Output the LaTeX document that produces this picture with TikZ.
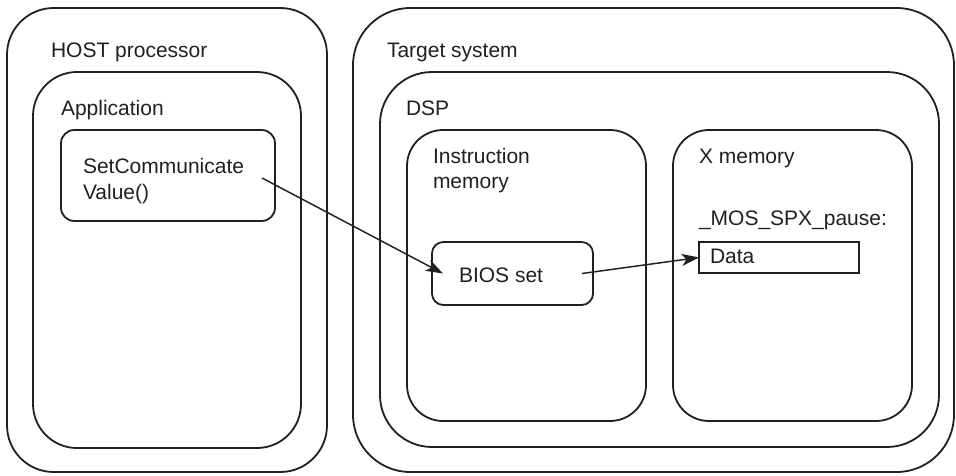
\documentclass[tikz,border=0pt]{standalone}
\usepackage{fontspec}
\setmainfont{Liberation Sans}
\usetikzlibrary{arrows.meta,calc,fit}
\definecolor{ink}{HTML}{231F20}
\begin{document}
\begin{tikzpicture}[x=0.75pt,y=-0.75pt,
  frame/.style={draw=ink, line width=1.35pt, inner sep=0pt, outer sep=0pt},
  lbl/.style={anchor=base west, inner sep=0pt, outer sep=0pt, text=ink,
              font=\fontsize{15.75}{19.5}\selectfont},
  link/.style={draw=ink, line width=1.1pt,
               -{Stealth[length=13pt,width=9pt,inset=3.5pt]}}]
\useasboundingbox (0,0) rectangle (956,475);

% host side
\node[frame, rounded corners=35pt, fit={(7,8) (327,472)}] (host) {};
\node[frame, rounded corners=33pt, fit={(33,72) (301,448)}] (app) {};
\node[frame, rounded corners=10pt, fit={(61,130) (275,221)}] (setcomm) {};
\node[lbl] (hostlbl) at (51,57) {HOST processor};
\node[lbl] (applbl) at (61,115) {Application};
\node[lbl] (sc1) at (83,173) {SetCommunicate};
\node[lbl] (sc2) at (83,199) {Value()};

% target side
\node[frame, rounded corners=43pt, fit={(353,8) (954,472)}] (target) {};
\node[frame, rounded corners=39pt, fit={(380,72) (939,447)}] (dsp) {};
\node[frame, rounded corners=27pt, fit={(407,130) (646,421)}] (instr) {};
\node[frame, rounded corners=27pt, fit={(673,130) (912,421)}] (xmem) {};
\node[frame, rounded corners=8.5pt, fit={(432,242) (593,305)}] (bios) {};
\node[frame, line width=0.8pt, fit={(699,242) (859,273)}] (data) {};

\node[lbl] (targetlbl) at (387,57) {Target system};
\node[lbl] (dsplbl) at (406,115) {DSP};
\node[lbl] (instr1) at (433,163) {Instruction};
\node[lbl] (instr2) at (433,188) {memory};
\node[lbl] (xmemlbl) at (699,163) {X memory};
\node[lbl] (symlbl) at (699,225) {\_MOS\_SPX\_pause:};
\node[lbl] (datalbl) at (710,263) {Data};
\node[lbl] (bioslbl) at (459,282) {BIOS set};

% connectors
\draw[link] ($(sc1.base east)+(18,5)$) -- ($(bios.west)+(11,0)$);
\draw[link] ($(bios.east)+(-11,0)$) -- (data.west);
\end{tikzpicture}
\end{document}
